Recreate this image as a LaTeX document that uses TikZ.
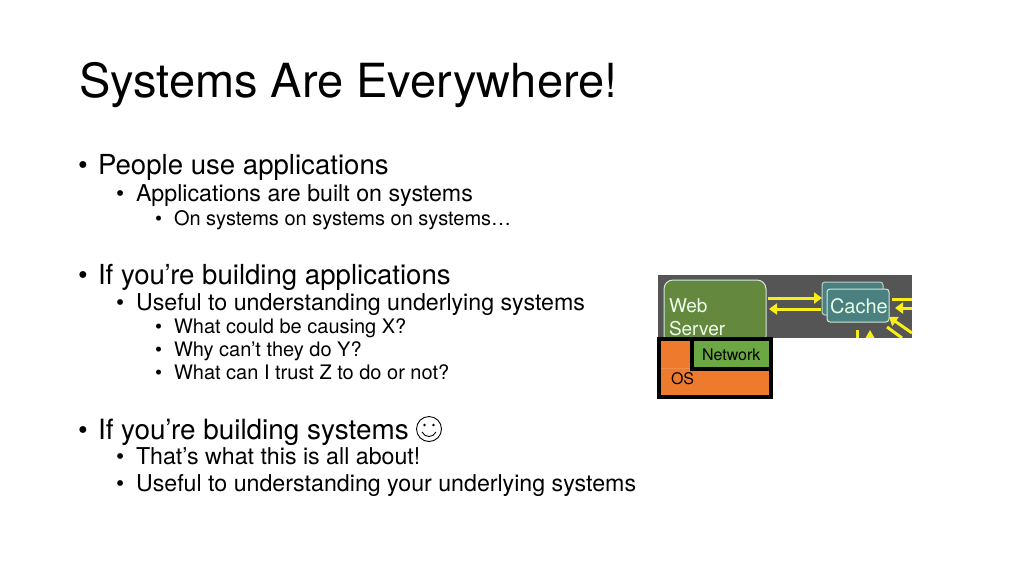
\documentclass[tikz,border=0pt]{standalone}
\usepackage{fontspec}
\setmainfont{TeX Gyre Heros}
\definecolor{panelgray}{HTML}{555555}
\definecolor{servergreen}{HTML}{65883F}
\definecolor{cachegreen}{HTML}{4A8080}
\definecolor{paleedge}{HTML}{D5E8D8}
\definecolor{arrowyellow}{HTML}{F7EE1A}
\definecolor{osorange}{HTML}{EE7A2E}
\definecolor{netgreen}{HTML}{6BA843}
\usetikzlibrary{arrows.meta}
\tikzset{
  every node/.style={inner sep=0pt,outer sep=0pt,anchor=base west,text=black},
  title/.style={font=\fontsize{47}{47}\selectfont},
  lvla/.style={font=\fontsize{27.6}{27.6}\selectfont},
  lvlb/.style={font=\fontsize{23.2}{23.2}\selectfont},
  lvlc/.style={font=\fontsize{20}{20}\selectfont},
  flow/.style={arrowyellow,line width=3pt,-{Triangle[length=8pt,width=11pt]}},
  stub/.style={arrowyellow,line width=3pt},
  blackbox/.style={draw=black,line width=4.5pt},
  pictext/.style={font=\fontsize{19}{19}\selectfont,text=white!93!green},
  boxtext/.style={font=\fontsize{16}{16}\selectfont},
}
\begin{document}
\begin{tikzpicture}[x=1pt,y=-1pt]
	\useasboundingbox (0,0) rectangle (1024,576);
	\fill[white] (0,0) rectangle (1024,576);
	% text of the slide
	\node[title] (head) at (79,97) {Systems Are Everywhere!};
	\node[lvla] (a1) at (78,174) {•};
	\node[lvla] (a1t) at (98,174) {People use applications};
	\node[lvlb] (b1) at (116,201) {•};
	\node[lvlb] (b1t) at (136,201) {Applications are built on systems};
	\node[lvlc] (c1) at (155,225) {•};
	\node[lvlc] (c1t) at (174,225) {On systems on systems on systems…};
	\node[lvla] (a2) at (78,284) {•};
	\node[lvla] (a2t) at (98,284) {If you’re building applications};
	\node[lvlb] (b2) at (116,310) {•};
	\node[lvlb] (b2t) at (136,310) {Useful to understanding underlying systems};
	\node[lvlc] (c2) at (155,333) {•};
	\node[lvlc] (c2t) at (174,333) {What could be causing X?};
	\node[lvlc] (c3) at (155,356) {•};
	\node[lvlc] (c3t) at (174,356) {Why can’t they do Y?};
	\node[lvlc] (c4) at (155,379) {•};
	\node[lvlc] (c4t) at (174,379) {What can I trust Z to do or not?};
	\node[lvla] (a3) at (78,439) {•};
	\node[lvla,font=\fontsize{27.9}{27.9}\selectfont] (a3t) at (98,439) {If you’re building systems};
	\node[lvlb] (b3) at (116,464) {•};
	\node[lvlb] (b3t) at (136,464) {That’s what this is all about!};
	\node[lvlb] (b4) at (116,491) {•};
	\node[lvlb] (b4t) at (136,491) {Useful to understanding your underlying systems};
	% smiley
	\draw[line width=.9pt] (429,429) circle (12.5);
	\fill (424.5,425) circle (1.4) (433.5,425) circle (1.4);
	\draw[line width=.9pt] (422,432) .. controls (425,438) and (433,438) .. (436,432);
	% screenshot panel
	\fill[panelgray] (658,275) rectangle (912,338);
	\draw[paleedge,fill=servergreen,line width=1pt,rounded corners=9pt] (664,280) rectangle (766,345);
	\node[pictext] (web) at (669,312) {Web};
	\node[pictext] (server) at (669,335) {Server};
	\draw[paleedge!80!cachegreen,fill=cachegreen,line width=1pt,rounded corners=3pt] (822,282) rectangle (883,315);
	\draw[paleedge,fill=cachegreen,line width=1pt,rounded corners=3pt] (827,289) rectangle (889,322);
	\node[font=\fontsize{20}{20}\selectfont,text=white!90!green] (cache) at (830,313) {Cache};
	\coordinate (wa) at (768,298); \coordinate (wb) at (822,298);
	\coordinate (wc) at (821,309); \coordinate (wd) at (769,309);
	\draw[flow] (wa) -- (wb);
	\draw[flow] (wc) -- (wd);
	\draw[stub] (892,299) -- (912,299);
	\coordinate (re) at (912,308); \coordinate (rf) at (895,308);
	\draw[flow] (re) -- (rf);
	\coordinate (rg) at (912,333); \coordinate (rh) at (889,317);
	\draw[flow] (rg) -- (rh);
	\draw[stub] (887,327) -- (902,338);
	\draw[stub] (857,330) -- (857,338);
	\fill[arrowyellow] (870,330) -- (865.5,338) -- (874.5,338) -- cycle;
	% boxes on top
	\fill[white] (650,338) rectangle (912,402);
	\draw[blackbox,fill=osorange] (659.2,339.2) rectangle (770.8,396.8);
	\draw[osorange!85!white,line width=.4pt] (661,368) -- (692,368);
	\draw[blackbox,fill=netgreen] (692,339.2) rectangle (770.8,369);
	\node[boxtext] (network) at (702,360) {Network};
	\node[boxtext] (os) at (671,384) {OS};
\end{tikzpicture}
\end{document}
